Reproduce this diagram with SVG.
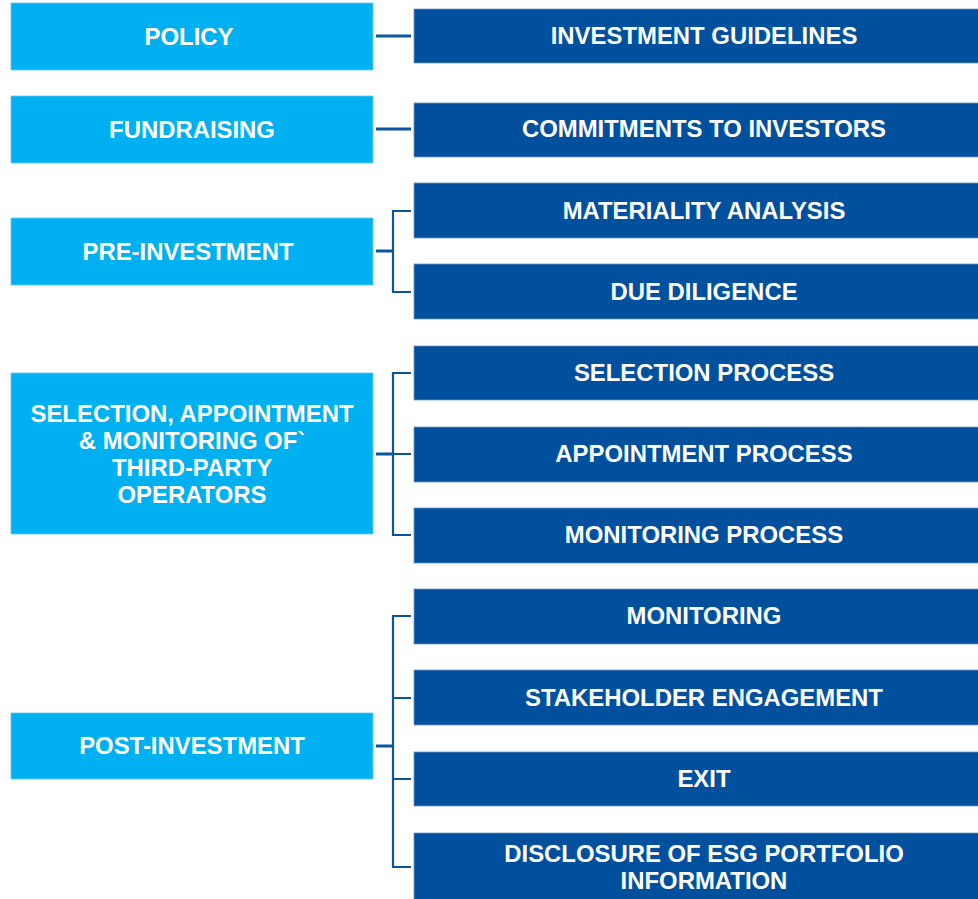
<svg xmlns="http://www.w3.org/2000/svg" width="978" height="899" viewBox="0 0 978 899">
<style>
.l{fill:#00B0F0;stroke:#5fcaf4;stroke-width:0.8}
.d{fill:#00509E;stroke:#6f97c6;stroke-width:0.8}
text{font-family:"Liberation Sans",Arial,sans-serif;font-weight:bold;font-size:23.9px;fill:#fff;text-anchor:middle}
.c{fill:none;stroke:#0C53A0;stroke-width:2.2}
.s{fill:none;stroke:#0C53A0;stroke-width:3}
</style>
<rect width="978" height="899" fill="#fff"/>
<g id="connectors">
<path class="s" d="M376 36H411"/>
<path class="s" d="M376 129H411"/>
<path class="s" d="M376 251H393"/>
<path class="c" d="M411 211H393V292H411"/>
<path class="s" d="M376 454H393"/>
<path class="c" d="M411 373H393V535H411M393 454H411"/>
<path class="s" d="M376 746H393"/>
<path class="c" d="M411 616H393V867H411M393 698H411M393 779H411"/>
</g>
<g id="policy"><rect class="l" x="11" y="3" width="362" height="67"/><text x="189" y="45">POLICY</text></g>
<g id="fundraising"><rect class="l" x="11" y="96" width="362" height="67"/><text x="192" y="138">FUNDRAISING</text></g>
<g id="pre-investment"><rect class="l" x="11" y="218" width="362" height="67"/><text x="188" y="260">PRE-INVESTMENT</text></g>
<g id="selection"><rect class="l" x="11" y="373" width="362" height="161"/><text x="192" y="422">SELECTION, APPOINTMENT</text><text x="192" y="449">&amp; MONITORING OF`</text><text x="192" y="476">THIRD-PARTY</text><text x="192" y="503">OPERATORS</text></g>
<g id="post-investment"><rect class="l" x="11" y="713" width="362" height="66"/><text x="192" y="754">POST-INVESTMENT</text></g>
<g id="investment-guidelines"><rect class="d" x="414" y="9" width="570" height="54"/><text x="704" y="44">INVESTMENT GUIDELINES</text></g>
<g id="commitments"><rect class="d" x="414" y="103" width="570" height="54"/><text x="704" y="137">COMMITMENTS TO INVESTORS</text></g>
<g id="materiality"><rect class="d" x="414" y="183" width="570" height="55"/><text x="704" y="219">MATERIALITY ANALYSIS</text></g>
<g id="due-diligence"><rect class="d" x="414" y="264" width="570" height="55"/><text x="704" y="300">DUE DILIGENCE</text></g>
<g id="selection-process"><rect class="d" x="414" y="346" width="570" height="54"/><text x="704" y="381">SELECTION PROCESS</text></g>
<g id="appointment-process"><rect class="d" x="414" y="427" width="570" height="55"/><text x="704" y="462">APPOINTMENT PROCESS</text></g>
<g id="monitoring-process"><rect class="d" x="414" y="508" width="570" height="55"/><text x="704" y="543">MONITORING PROCESS</text></g>
<g id="monitoring"><rect class="d" x="414" y="589" width="570" height="55"/><text x="704" y="624">MONITORING</text></g>
<g id="stakeholder"><rect class="d" x="414" y="670" width="570" height="55"/><text x="704" y="706">STAKEHOLDER ENGAGEMENT</text></g>
<g id="exit"><rect class="d" x="414" y="752" width="570" height="54"/><text x="704" y="787">EXIT</text></g>
<g id="disclosure"><rect class="d" x="414" y="833" width="570" height="70"/><text x="704" y="862">DISCLOSURE OF ESG PORTFOLIO</text><text x="704" y="889">INFORMATION</text></g>
</svg>
